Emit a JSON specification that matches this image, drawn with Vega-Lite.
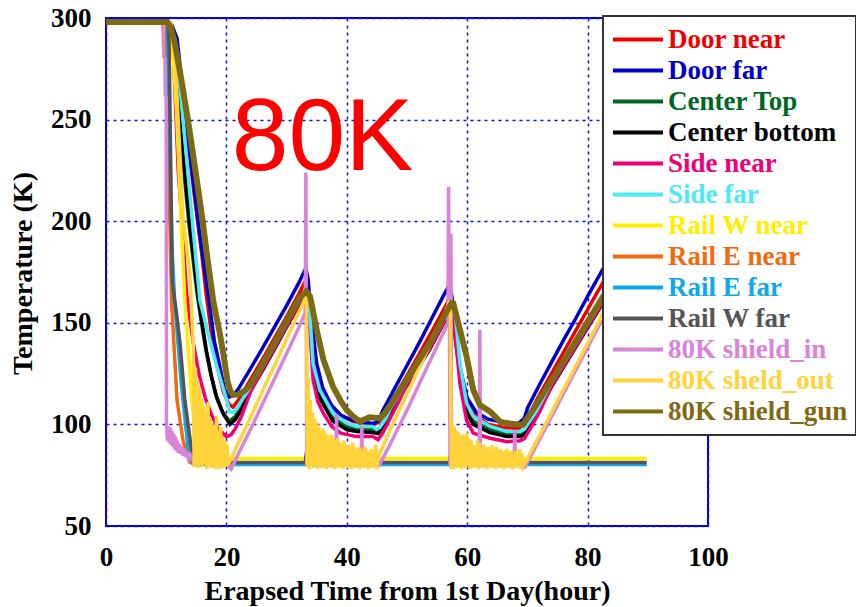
{
"$schema": "https://vega.github.io/schema/vega-lite/v6.json",
"width": 602, "height": 508,
"autosize": "none",
"padding": {"left": 106, "top": 18, "right": 148, "bottom": 81},
"background": "white",
"config": {"view": {"stroke": "#0000e0", "strokeWidth": 2}, "font": "Liberation Serif"},
"datasets": {
"annot": [{"label": "80K", "hour": 20.9, "K": 225.4}],
"temps": [
{"series":"Door near","hour":0,"K":297.5},{"series":"Door near","hour":10.6,"K":297.5},{"series":"Door near","hour":11.6,"K":288},{"series":"Door near","hour":13,"K":255},{"series":"Door near","hour":14.7,"K":212},{"series":"Door near","hour":15.9,"K":184},{"series":"Door near","hour":16.6,"K":165},{"series":"Door near","hour":17.5,"K":145},{"series":"Door near","hour":18.5,"K":128},{"series":"Door near","hour":19.5,"K":116},{"series":"Door near","hour":20.4,"K":110},{"series":"Door near","hour":21.1,"K":108.5},{"series":"Door near","hour":22,"K":112},{"series":"Door near","hour":24,"K":122},{"series":"Door near","hour":26,"K":132},{"series":"Door near","hour":28,"K":142.5},{"series":"Door near","hour":30,"K":153},{"series":"Door near","hour":32,"K":164},{"series":"Door near","hour":33.2,"K":171},{"series":"Door near","hour":33.6,"K":166},{"series":"Door near","hour":34,"K":150},{"series":"Door near","hour":34.5,"K":135},{"series":"Door near","hour":35.5,"K":121},{"series":"Door near","hour":37,"K":111},{"series":"Door near","hour":39,"K":104.5},{"series":"Door near","hour":41,"K":101.5},{"series":"Door near","hour":43,"K":100.5},{"series":"Door near","hour":44.5,"K":100},{"series":"Door near","hour":45.3,"K":101},{"series":"Door near","hour":46,"K":104},{"series":"Door near","hour":48,"K":114},{"series":"Door near","hour":50,"K":124},{"series":"Door near","hour":52,"K":134.5},{"series":"Door near","hour":54,"K":145},{"series":"Door near","hour":56,"K":156},{"series":"Door near","hour":57.1,"K":162},{"series":"Door near","hour":57.5,"K":156},{"series":"Door near","hour":58,"K":142},{"series":"Door near","hour":58.8,"K":125},{"series":"Door near","hour":60,"K":111},{"series":"Door near","hour":61.5,"K":104},{"series":"Door near","hour":63.5,"K":100},{"series":"Door near","hour":66,"K":98.5},{"series":"Door near","hour":68.5,"K":98},{"series":"Door near","hour":69.5,"K":100},{"series":"Door near","hour":70.3,"K":105},{"series":"Door near","hour":72,"K":114.5},{"series":"Door near","hour":74,"K":125},{"series":"Door near","hour":76,"K":135.5},{"series":"Door near","hour":78,"K":146},{"series":"Door near","hour":80,"K":156.5},{"series":"Door near","hour":81.5,"K":164.5},{"series":"Door near","hour":84,"K":177},{"series":"Door near","hour":86,"K":187},{"series":"Door near","hour":88,"K":196},{"series":"Door near","hour":89.8,"K":203},
{"series":"Door far","hour":0,"K":297.5},{"series":"Door far","hour":10.8,"K":297.5},{"series":"Door far","hour":11.8,"K":290},{"series":"Door far","hour":13.9,"K":234},{"series":"Door far","hour":15.5,"K":195},{"series":"Door far","hour":17.2,"K":159},{"series":"Door far","hour":18,"K":141},{"series":"Door far","hour":18.9,"K":128.5},{"series":"Door far","hour":19.7,"K":117},{"series":"Door far","hour":20.5,"K":113.5},{"series":"Door far","hour":21.2,"K":114.5},{"series":"Door far","hour":22,"K":117.5},{"series":"Door far","hour":24,"K":127.5},{"series":"Door far","hour":26,"K":137.5},{"series":"Door far","hour":28,"K":148},{"series":"Door far","hour":30,"K":158.5},{"series":"Door far","hour":32,"K":169.5},{"series":"Door far","hour":33.2,"K":177},{"series":"Door far","hour":33.6,"K":171},{"series":"Door far","hour":34,"K":155},{"series":"Door far","hour":35,"K":130},{"series":"Door far","hour":36,"K":118},{"series":"Door far","hour":37.5,"K":109},{"series":"Door far","hour":39,"K":104.5},{"series":"Door far","hour":41,"K":102},{"series":"Door far","hour":43,"K":101},{"series":"Door far","hour":44.5,"K":100.5},{"series":"Door far","hour":45.3,"K":102},{"series":"Door far","hour":46,"K":107},{"series":"Door far","hour":48,"K":118},{"series":"Door far","hour":50,"K":129},{"series":"Door far","hour":52,"K":140},{"series":"Door far","hour":54,"K":151.5},{"series":"Door far","hour":56,"K":163},{"series":"Door far","hour":57.1,"K":169},{"series":"Door far","hour":57.5,"K":162},{"series":"Door far","hour":58,"K":147},{"series":"Door far","hour":58.8,"K":128},{"series":"Door far","hour":60,"K":113},{"series":"Door far","hour":61.5,"K":106},{"series":"Door far","hour":63.5,"K":102.5},{"series":"Door far","hour":66,"K":101},{"series":"Door far","hour":68.5,"K":100.5},{"series":"Door far","hour":69.5,"K":103},{"series":"Door far","hour":70,"K":108},{"series":"Door far","hour":72,"K":119.5},{"series":"Door far","hour":74,"K":130.5},{"series":"Door far","hour":76,"K":141.5},{"series":"Door far","hour":78,"K":152},{"series":"Door far","hour":80,"K":163},{"series":"Door far","hour":81.5,"K":171},{"series":"Door far","hour":84,"K":184},{"series":"Door far","hour":86,"K":194},{"series":"Door far","hour":88,"K":203},{"series":"Door far","hour":89.8,"K":211},
{"series":"Center Top","hour":0,"K":297.5},{"series":"Center Top","hour":10.5,"K":297.5},{"series":"Center Top","hour":11.3,"K":288},{"series":"Center Top","hour":12.1,"K":250},{"series":"Center Top","hour":13.8,"K":198},{"series":"Center Top","hour":15.1,"K":165},{"series":"Center Top","hour":15.7,"K":153},{"series":"Center Top","hour":16.5,"K":138},{"series":"Center Top","hour":17.3,"K":126},{"series":"Center Top","hour":18.2,"K":115},{"series":"Center Top","hour":19.3,"K":106.5},{"series":"Center Top","hour":20.5,"K":101.5},{"series":"Center Top","hour":21.5,"K":104},{"series":"Center Top","hour":22.5,"K":109},{"series":"Center Top","hour":24,"K":117.5},{"series":"Center Top","hour":26,"K":127.5},{"series":"Center Top","hour":28,"K":138},{"series":"Center Top","hour":30,"K":149},{"series":"Center Top","hour":32.2,"K":160.5},{"series":"Center Top","hour":33.3,"K":163.5},{"series":"Center Top","hour":33.8,"K":156.5},{"series":"Center Top","hour":34.4,"K":128.5},{"series":"Center Top","hour":35.5,"K":114.5},{"series":"Center Top","hour":37.7,"K":103},{"series":"Center Top","hour":40,"K":99},{"series":"Center Top","hour":41.6,"K":98},{"series":"Center Top","hour":44.3,"K":97.5},{"series":"Center Top","hour":45.2,"K":97},{"series":"Center Top","hour":46,"K":100.5},{"series":"Center Top","hour":47.2,"K":107},{"series":"Center Top","hour":49.9,"K":119.8},{"series":"Center Top","hour":53.8,"K":138},{"series":"Center Top","hour":56.6,"K":153.6},{"series":"Center Top","hour":57.3,"K":157.5},{"series":"Center Top","hour":58,"K":151.5},{"series":"Center Top","hour":58.8,"K":126.5},{"series":"Center Top","hour":59.9,"K":107.5},{"series":"Center Top","hour":61,"K":101.5},{"series":"Center Top","hour":63.8,"K":97.5},{"series":"Center Top","hour":66.6,"K":95.5},{"series":"Center Top","hour":68.8,"K":95.5},{"series":"Center Top","hour":69.5,"K":96.5},{"series":"Center Top","hour":70.5,"K":101.5},{"series":"Center Top","hour":71.5,"K":106},{"series":"Center Top","hour":74,"K":119.5},{"series":"Center Top","hour":77,"K":134},{"series":"Center Top","hour":80,"K":148.5},{"series":"Center Top","hour":82.6,"K":161},{"series":"Center Top","hour":86,"K":177},{"series":"Center Top","hour":89.8,"K":194},
{"series":"Center bottom","hour":0,"K":297.5},{"series":"Center bottom","hour":10.6,"K":297.5},{"series":"Center bottom","hour":11.4,"K":288},{"series":"Center bottom","hour":12.25,"K":250},{"series":"Center bottom","hour":14,"K":196},{"series":"Center bottom","hour":15.3,"K":163},{"series":"Center bottom","hour":15.9,"K":151},{"series":"Center bottom","hour":16.7,"K":136},{"series":"Center bottom","hour":17.5,"K":124},{"series":"Center bottom","hour":18.4,"K":113},{"series":"Center bottom","hour":19.5,"K":105},{"series":"Center bottom","hour":20.6,"K":100},{"series":"Center bottom","hour":21.5,"K":102.5},{"series":"Center bottom","hour":22.5,"K":107.5},{"series":"Center bottom","hour":24,"K":116.5},{"series":"Center bottom","hour":26,"K":126.5},{"series":"Center bottom","hour":28,"K":137},{"series":"Center bottom","hour":30,"K":148},{"series":"Center bottom","hour":32.2,"K":159.5},{"series":"Center bottom","hour":33.3,"K":162.5},{"series":"Center bottom","hour":33.8,"K":155},{"series":"Center bottom","hour":34.4,"K":127},{"series":"Center bottom","hour":35.5,"K":113},{"series":"Center bottom","hour":37.7,"K":101.5},{"series":"Center bottom","hour":40,"K":97.5},{"series":"Center bottom","hour":41.6,"K":96.5},{"series":"Center bottom","hour":44.3,"K":96},{"series":"Center bottom","hour":45.2,"K":95.5},{"series":"Center bottom","hour":46,"K":99},{"series":"Center bottom","hour":47.2,"K":105.5},{"series":"Center bottom","hour":49.9,"K":118.8},{"series":"Center bottom","hour":53.8,"K":137},{"series":"Center bottom","hour":56.6,"K":152.6},{"series":"Center bottom","hour":57.3,"K":156.5},{"series":"Center bottom","hour":58,"K":150},{"series":"Center bottom","hour":58.8,"K":125},{"series":"Center bottom","hour":59.9,"K":106},{"series":"Center bottom","hour":61,"K":100},{"series":"Center bottom","hour":63.8,"K":96},{"series":"Center bottom","hour":66.6,"K":94},{"series":"Center bottom","hour":68.8,"K":94},{"series":"Center bottom","hour":69.5,"K":95},{"series":"Center bottom","hour":70.5,"K":100},{"series":"Center bottom","hour":71.5,"K":104.5},{"series":"Center bottom","hour":74,"K":118.5},{"series":"Center bottom","hour":77,"K":133},{"series":"Center bottom","hour":80,"K":147.5},{"series":"Center bottom","hour":82.6,"K":160},{"series":"Center bottom","hour":86,"K":176},{"series":"Center bottom","hour":89.8,"K":193},
{"series":"Side near","hour":0,"K":297.5},{"series":"Side near","hour":10.5,"K":297.5},{"series":"Side near","hour":11.2,"K":282},{"series":"Side near","hour":12,"K":225},{"series":"Side near","hour":13.4,"K":164},{"series":"Side near","hour":14.5,"K":140},{"series":"Side near","hour":15.5,"K":124},{"series":"Side near","hour":16.5,"K":113},{"series":"Side near","hour":17.5,"K":105},{"series":"Side near","hour":18.6,"K":98},{"series":"Side near","hour":20,"K":94},{"series":"Side near","hour":20.8,"K":95},{"series":"Side near","hour":21.5,"K":98},{"series":"Side near","hour":22.5,"K":104},{"series":"Side near","hour":24,"K":116},{"series":"Side near","hour":26,"K":127},{"series":"Side near","hour":28,"K":137.5},{"series":"Side near","hour":30,"K":148.5},{"series":"Side near","hour":32.2,"K":160},{"series":"Side near","hour":33.3,"K":163},{"series":"Side near","hour":33.8,"K":150},{"series":"Side near","hour":34.4,"K":122},{"series":"Side near","hour":35.2,"K":111},{"series":"Side near","hour":36.1,"K":105.5},{"series":"Side near","hour":37.5,"K":99},{"series":"Side near","hour":39,"K":95.7},{"series":"Side near","hour":41.6,"K":94},{"series":"Side near","hour":44.3,"K":94},{"series":"Side near","hour":45.2,"K":92.5},{"series":"Side near","hour":46,"K":96},{"series":"Side near","hour":47.2,"K":103},{"series":"Side near","hour":48.5,"K":110.5},{"series":"Side near","hour":49.9,"K":119.3},{"series":"Side near","hour":53.8,"K":137.5},{"series":"Side near","hour":56.6,"K":153},{"series":"Side near","hour":57.3,"K":157},{"series":"Side near","hour":58,"K":145},{"series":"Side near","hour":58.8,"K":120},{"series":"Side near","hour":59.9,"K":102},{"series":"Side near","hour":61,"K":95.7},{"series":"Side near","hour":63.8,"K":93.2},{"series":"Side near","hour":66.6,"K":91.5},{"series":"Side near","hour":68.8,"K":92},{"series":"Side near","hour":69.5,"K":93},{"series":"Side near","hour":70.5,"K":98},{"series":"Side near","hour":72,"K":106},{"series":"Side near","hour":74,"K":119},{"series":"Side near","hour":77,"K":133.5},{"series":"Side near","hour":80,"K":148},{"series":"Side near","hour":82.6,"K":160.5},{"series":"Side near","hour":86,"K":176},{"series":"Side near","hour":89.8,"K":193},
{"series":"Side far","hour":0,"K":297.5},{"series":"Side far","hour":10.7,"K":297.5},{"series":"Side far","hour":11.6,"K":287},{"series":"Side far","hour":12.8,"K":250},{"series":"Side far","hour":14.5,"K":195},{"series":"Side far","hour":15.6,"K":161},{"series":"Side far","hour":16.95,"K":145},{"series":"Side far","hour":18.4,"K":128.5},{"series":"Side far","hour":19.7,"K":115.5},{"series":"Side far","hour":20.6,"K":106},{"series":"Side far","hour":21.2,"K":106},{"series":"Side far","hour":21.8,"K":108},{"series":"Side far","hour":22.5,"K":111.5},{"series":"Side far","hour":24,"K":118.5},{"series":"Side far","hour":26,"K":128.5},{"series":"Side far","hour":28,"K":139},{"series":"Side far","hour":30,"K":150},{"series":"Side far","hour":32.2,"K":161.5},{"series":"Side far","hour":33.3,"K":164.5},{"series":"Side far","hour":33.8,"K":158},{"series":"Side far","hour":34.4,"K":130},{"series":"Side far","hour":35.5,"K":117},{"series":"Side far","hour":37.7,"K":105.5},{"series":"Side far","hour":40,"K":100.6},{"series":"Side far","hour":41.6,"K":99},{"series":"Side far","hour":44.3,"K":99},{"series":"Side far","hour":44.9,"K":97.5},{"series":"Side far","hour":45.5,"K":98.5},{"series":"Side far","hour":46.5,"K":103},{"series":"Side far","hour":47.2,"K":107.5},{"series":"Side far","hour":49.9,"K":120.8},{"series":"Side far","hour":53.8,"K":139},{"series":"Side far","hour":56.6,"K":154.6},{"series":"Side far","hour":57.3,"K":158.5},{"series":"Side far","hour":58,"K":154.8},{"series":"Side far","hour":58.8,"K":130},{"series":"Side far","hour":59.9,"K":110.4},{"series":"Side far","hour":61,"K":104},{"series":"Side far","hour":63.8,"K":99},{"series":"Side far","hour":66.6,"K":96.5},{"series":"Side far","hour":68.8,"K":96.5},{"series":"Side far","hour":69.5,"K":97.5},{"series":"Side far","hour":70.5,"K":102},{"series":"Side far","hour":71.5,"K":106.5},{"series":"Side far","hour":74,"K":120.5},{"series":"Side far","hour":77,"K":135},{"series":"Side far","hour":80,"K":149.5},{"series":"Side far","hour":82.6,"K":162},{"series":"Side far","hour":86,"K":178},{"series":"Side far","hour":89.8,"K":195},
{"series":"Rail W near","hour":0,"K":297.5},{"series":"Rail W near","hour":10.8,"K":297.5},{"series":"Rail W near","hour":10.9,"K":294},{"series":"Rail W near","hour":11.7,"K":255},{"series":"Rail W near","hour":12.5,"K":200},{"series":"Rail W near","hour":13.1,"K":161},{"series":"Rail W near","hour":14.2,"K":115},{"series":"Rail W near","hour":15,"K":89},{"series":"Rail W near","hour":15.6,"K":84.5},{"series":"Rail W near","hour":16.5,"K":83.2},{"series":"Rail W near","hour":33.2,"K":83.2},{"series":"Rail W near","hour":33.4,"K":85.5},{"series":"Rail W near","hour":33.8,"K":83.2},{"series":"Rail W near","hour":57.1,"K":83.2},{"series":"Rail W near","hour":57.3,"K":85.5},{"series":"Rail W near","hour":57.7,"K":83.2},{"series":"Rail W near","hour":89.8,"K":83.2},
{"series":"Rail E near","hour":0,"K":297.5},{"series":"Rail E near","hour":10,"K":297.5},{"series":"Rail E near","hour":10.1,"K":280},{"series":"Rail E near","hour":10.6,"K":200},{"series":"Rail E near","hour":10.9,"K":160},{"series":"Rail E near","hour":11.8,"K":112},{"series":"Rail E near","hour":12.8,"K":92},{"series":"Rail E near","hour":13.9,"K":81.5},{"series":"Rail E near","hour":14.5,"K":80.5},{"series":"Rail E near","hour":33.2,"K":80.5},{"series":"Rail E near","hour":33.35,"K":86},{"series":"Rail E near","hour":33.6,"K":80.5},{"series":"Rail E near","hour":43.8,"K":80.5},{"series":"Rail E near","hour":44,"K":84},{"series":"Rail E near","hour":44.2,"K":80.5},{"series":"Rail E near","hour":57.1,"K":80.5},{"series":"Rail E near","hour":57.3,"K":86},{"series":"Rail E near","hour":57.6,"K":80.5},{"series":"Rail E near","hour":89.8,"K":80.5},
{"series":"Rail E far","hour":0,"K":297.5},{"series":"Rail E far","hour":10.2,"K":297.5},{"series":"Rail E far","hour":10.5,"K":250},{"series":"Rail E far","hour":11,"K":185},{"series":"Rail E far","hour":11.4,"K":161},{"series":"Rail E far","hour":12.5,"K":120},{"series":"Rail E far","hour":13.6,"K":89},{"series":"Rail E far","hour":14.3,"K":82},{"series":"Rail E far","hour":15,"K":80.3},{"series":"Rail E far","hour":33.2,"K":80.3},{"series":"Rail E far","hour":33.3,"K":84},{"series":"Rail E far","hour":33.5,"K":80.3},{"series":"Rail E far","hour":57.1,"K":80.3},{"series":"Rail E far","hour":57.25,"K":84},{"series":"Rail E far","hour":57.5,"K":80.3},{"series":"Rail E far","hour":89.8,"K":80.3},
{"series":"Rail W far","hour":0,"K":297.5},{"series":"Rail W far","hour":10.3,"K":297.5},{"series":"Rail W far","hour":10.5,"K":285},{"series":"Rail W far","hour":11,"K":170},{"series":"Rail W far","hour":11.7,"K":155},{"series":"Rail W far","hour":12.3,"K":140},{"series":"Rail W far","hour":13.1,"K":112},{"series":"Rail W far","hour":14.2,"K":87.4},{"series":"Rail W far","hour":14.8,"K":82.5},{"series":"Rail W far","hour":15.5,"K":81.2},{"series":"Rail W far","hour":33.1,"K":81.2},{"series":"Rail W far","hour":33.3,"K":86.5},{"series":"Rail W far","hour":33.6,"K":81.2},{"series":"Rail W far","hour":43.8,"K":81.2},{"series":"Rail W far","hour":44,"K":85.5},{"series":"Rail W far","hour":44.3,"K":81.2},{"series":"Rail W far","hour":57.1,"K":81.2},{"series":"Rail W far","hour":57.3,"K":86.5},{"series":"Rail W far","hour":57.6,"K":81.2},{"series":"Rail W far","hour":62,"K":81.2},{"series":"Rail W far","hour":62.2,"K":84},{"series":"Rail W far","hour":62.4,"K":81.2},{"series":"Rail W far","hour":67.4,"K":81.2},{"series":"Rail W far","hour":67.6,"K":84.5},{"series":"Rail W far","hour":67.8,"K":81.2},{"series":"Rail W far","hour":89.8,"K":81.2},
{"series":"80K shield_in","hour":0,"K":297.5},{"series":"80K shield_in","hour":9.4,"K":297.5},{"series":"80K shield_in","hour":9.5,"K":292},{"series":"80K shield_in","hour":9.6,"K":281},{"series":"80K shield_in","hour":9.8,"K":280},{"series":"80K shield_in","hour":9.85,"K":262},{"series":"80K shield_in","hour":10,"K":261},{"series":"80K shield_in","hour":10.05,"K":100},{"series":"80K shield_in","hour":10.2,"K":92},{"series":"80K shield_in","hour":10.35,"K":99},{"series":"80K shield_in","hour":10.5,"K":91},{"series":"80K shield_in","hour":10.65,"K":98.5},{"series":"80K shield_in","hour":10.8,"K":90},{"series":"80K shield_in","hour":10.95,"K":97},{"series":"80K shield_in","hour":11.1,"K":89},{"series":"80K shield_in","hour":11.25,"K":95.5},{"series":"80K shield_in","hour":11.4,"K":88},{"series":"80K shield_in","hour":11.55,"K":94},{"series":"80K shield_in","hour":11.7,"K":87},{"series":"80K shield_in","hour":11.85,"K":92},{"series":"80K shield_in","hour":12,"K":86},{"series":"80K shield_in","hour":12.2,"K":90.5},{"series":"80K shield_in","hour":12.4,"K":85.5},{"series":"80K shield_in","hour":12.6,"K":89},{"series":"80K shield_in","hour":12.8,"K":84.5},{"series":"80K shield_in","hour":13,"K":88},{"series":"80K shield_in","hour":13.2,"K":84},{"series":"80K shield_in","hour":13.4,"K":86.5},{"series":"80K shield_in","hour":13.7,"K":83},{"series":"80K shield_in","hour":14,"K":85},{"series":"80K shield_in","hour":14.5,"K":82},{"series":"80K shield_in","hour":15,"K":83},{"series":"80K shield_in","hour":16,"K":81.5},{"series":"80K shield_in","hour":17,"K":83},{"series":"80K shield_in","hour":18,"K":81},{"series":"80K shield_in","hour":19,"K":82},{"series":"80K shield_in","hour":20,"K":80.5},{"series":"80K shield_in","hour":20.8,"K":78},{"series":"80K shield_in","hour":22,"K":85.5},{"series":"80K shield_in","hour":24,"K":97.5},{"series":"80K shield_in","hour":26,"K":110},{"series":"80K shield_in","hour":28,"K":122.5},{"series":"80K shield_in","hour":30.5,"K":138},{"series":"80K shield_in","hour":32,"K":147.5},{"series":"80K shield_in","hour":33.1,"K":155},{"series":"80K shield_in","hour":33.2,"K":224},{"series":"80K shield_in","hour":33.35,"K":80},{"series":"80K shield_in","hour":36,"K":82},{"series":"80K shield_in","hour":38.2,"K":81.5},{"series":"80K shield_in","hour":38.3,"K":105},{"series":"80K shield_in","hour":38.4,"K":82},{"series":"80K shield_in","hour":42.4,"K":82},{"series":"80K shield_in","hour":42.5,"K":99},{"series":"80K shield_in","hour":42.6,"K":81.5},{"series":"80K shield_in","hour":44.5,"K":82},{"series":"80K shield_in","hour":45.4,"K":80},{"series":"80K shield_in","hour":47,"K":89},{"series":"80K shield_in","hour":50,"K":107},{"series":"80K shield_in","hour":53,"K":126},{"series":"80K shield_in","hour":55,"K":138.5},{"series":"80K shield_in","hour":56.8,"K":150},{"series":"80K shield_in","hour":56.9,"K":217},{"series":"80K shield_in","hour":57.05,"K":150},{"series":"80K shield_in","hour":57.15,"K":80},{"series":"80K shield_in","hour":57.3,"K":194},{"series":"80K shield_in","hour":57.4,"K":80},{"series":"80K shield_in","hour":60,"K":82},{"series":"80K shield_in","hour":62,"K":82},{"series":"80K shield_in","hour":62.1,"K":146.6},{"series":"80K shield_in","hour":62.2,"K":82},{"series":"80K shield_in","hour":67.8,"K":82},{"series":"80K shield_in","hour":67.9,"K":97},{"series":"80K shield_in","hour":68,"K":82},{"series":"80K shield_in","hour":69.6,"K":79},{"series":"80K shield_in","hour":72,"K":92.5},{"series":"80K shield_in","hour":75,"K":109.5},{"series":"80K shield_in","hour":78,"K":126.5},{"series":"80K shield_in","hour":81,"K":143.5},{"series":"80K shield_in","hour":82.6,"K":152.5},{"series":"80K shield_in","hour":86,"K":172},{"series":"80K shield_in","hour":89.8,"K":193},
{"series":"80K sheld_out","hour":0,"K":297.5},{"series":"80K sheld_out","hour":10.7,"K":297.5},{"series":"80K sheld_out","hour":11.5,"K":280},{"series":"80K sheld_out","hour":12.8,"K":201},{"series":"80K sheld_out","hour":13.9,"K":176},{"series":"80K sheld_out","hour":14.3,"K":150},{"series":"80K sheld_out","hour":14.5,"K":140},{"series":"80K sheld_out","hour":14.65,"K":79},{"series":"80K sheld_out","hour":14.85,"K":128},{"series":"80K sheld_out","hour":15,"K":80},{"series":"80K sheld_out","hour":15.2,"K":122},{"series":"80K sheld_out","hour":15.35,"K":78.5},{"series":"80K sheld_out","hour":15.55,"K":118},{"series":"80K sheld_out","hour":15.7,"K":80},{"series":"80K sheld_out","hour":15.9,"K":113},{"series":"80K sheld_out","hour":16.05,"K":79},{"series":"80K sheld_out","hour":16.25,"K":109},{"series":"80K sheld_out","hour":16.4,"K":80.5},{"series":"80K sheld_out","hour":16.6,"K":106},{"series":"80K sheld_out","hour":16.75,"K":78},{"series":"80K sheld_out","hour":16.95,"K":111},{"series":"80K sheld_out","hour":17.1,"K":79.5},{"series":"80K sheld_out","hour":17.3,"K":103},{"series":"80K sheld_out","hour":17.45,"K":78.5},{"series":"80K sheld_out","hour":17.65,"K":100},{"series":"80K sheld_out","hour":17.8,"K":80},{"series":"80K sheld_out","hour":18,"K":98},{"series":"80K sheld_out","hour":18.15,"K":78},{"series":"80K sheld_out","hour":18.35,"K":104},{"series":"80K sheld_out","hour":18.5,"K":79.5},{"series":"80K sheld_out","hour":18.7,"K":96},{"series":"80K sheld_out","hour":18.85,"K":78},{"series":"80K sheld_out","hour":19.05,"K":99},{"series":"80K sheld_out","hour":19.2,"K":80},{"series":"80K sheld_out","hour":19.4,"K":94},{"series":"80K sheld_out","hour":19.55,"K":78.5},{"series":"80K sheld_out","hour":19.75,"K":92},{"series":"80K sheld_out","hour":19.9,"K":79},{"series":"80K sheld_out","hour":20.1,"K":90},{"series":"80K sheld_out","hour":20.3,"K":80},{"series":"80K sheld_out","hour":22,"K":91},{"series":"80K sheld_out","hour":24,"K":103.5},{"series":"80K sheld_out","hour":26,"K":116.5},{"series":"80K sheld_out","hour":28,"K":129},{"series":"80K sheld_out","hour":30,"K":142},{"series":"80K sheld_out","hour":32,"K":155},{"series":"80K sheld_out","hour":33.3,"K":163},
{"series":"80K sheld_out","hour":33.45,"K":79},{"series":"80K sheld_out","hour":33.6,"K":123},{"series":"80K sheld_out","hour":33.78,"K":78},{"series":"80K sheld_out","hour":33.95,"K":112},{"series":"80K sheld_out","hour":34.13,"K":79.5},{"series":"80K sheld_out","hour":34.3,"K":106},{"series":"80K sheld_out","hour":34.48,"K":78.5},{"series":"80K sheld_out","hour":34.65,"K":103},{"series":"80K sheld_out","hour":34.83,"K":80},{"series":"80K sheld_out","hour":35,"K":101},{"series":"80K sheld_out","hour":35.18,"K":78},{"series":"80K sheld_out","hour":35.35,"K":99},{"series":"80K sheld_out","hour":35.53,"K":79.5},{"series":"80K sheld_out","hour":35.7,"K":97},{"series":"80K sheld_out","hour":35.88,"K":78.5},{"series":"80K sheld_out","hour":36.05,"K":98},{"series":"80K sheld_out","hour":36.23,"K":80},{"series":"80K sheld_out","hour":36.4,"K":96},{"series":"80K sheld_out","hour":36.58,"K":78},{"series":"80K sheld_out","hour":36.75,"K":95},{"series":"80K sheld_out","hour":36.93,"K":79.5},{"series":"80K sheld_out","hour":37.1,"K":94},{"series":"80K sheld_out","hour":37.28,"K":78.5},{"series":"80K sheld_out","hour":37.45,"K":95},{"series":"80K sheld_out","hour":37.63,"K":80},{"series":"80K sheld_out","hour":37.8,"K":93},{"series":"80K sheld_out","hour":37.98,"K":78},{"series":"80K sheld_out","hour":38.15,"K":92},{"series":"80K sheld_out","hour":38.33,"K":79.5},{"series":"80K sheld_out","hour":38.5,"K":93},{"series":"80K sheld_out","hour":38.68,"K":78.5},{"series":"80K sheld_out","hour":38.85,"K":91},{"series":"80K sheld_out","hour":39.03,"K":80},{"series":"80K sheld_out","hour":39.2,"K":90},{"series":"80K sheld_out","hour":39.38,"K":78},{"series":"80K sheld_out","hour":39.55,"K":92},{"series":"80K sheld_out","hour":39.73,"K":79.5},{"series":"80K sheld_out","hour":39.9,"K":89},{"series":"80K sheld_out","hour":40.08,"K":78.5},{"series":"80K sheld_out","hour":40.25,"K":90},{"series":"80K sheld_out","hour":40.43,"K":80},{"series":"80K sheld_out","hour":40.6,"K":88},{"series":"80K sheld_out","hour":40.78,"K":78},{"series":"80K sheld_out","hour":40.95,"K":91},{"series":"80K sheld_out","hour":41.13,"K":79.5},{"series":"80K sheld_out","hour":41.3,"K":89},{"series":"80K sheld_out","hour":41.48,"K":78.5},{"series":"80K sheld_out","hour":41.65,"K":87},{"series":"80K sheld_out","hour":41.83,"K":80},{"series":"80K sheld_out","hour":42,"K":89},{"series":"80K sheld_out","hour":42.18,"K":78},{"series":"80K sheld_out","hour":42.35,"K":88},{"series":"80K sheld_out","hour":42.53,"K":79.5},{"series":"80K sheld_out","hour":42.7,"K":86},{"series":"80K sheld_out","hour":42.88,"K":78.5},{"series":"80K sheld_out","hour":43.05,"K":89},{"series":"80K sheld_out","hour":43.23,"K":80},{"series":"80K sheld_out","hour":43.4,"K":87},{"series":"80K sheld_out","hour":43.58,"K":78},{"series":"80K sheld_out","hour":43.75,"K":85},{"series":"80K sheld_out","hour":43.93,"K":79.5},{"series":"80K sheld_out","hour":44.1,"K":88},{"series":"80K sheld_out","hour":44.28,"K":78.5},{"series":"80K sheld_out","hour":44.45,"K":86},{"series":"80K sheld_out","hour":44.63,"K":80},{"series":"80K sheld_out","hour":44.8,"K":90},{"series":"80K sheld_out","hour":44.98,"K":78},{"series":"80K sheld_out","hour":45.15,"K":86},{"series":"80K sheld_out","hour":45.4,"K":85},{"series":"80K sheld_out","hour":47,"K":96},{"series":"80K sheld_out","hour":50,"K":115},{"series":"80K sheld_out","hour":53,"K":134},{"series":"80K sheld_out","hour":55,"K":146.5},{"series":"80K sheld_out","hour":57.2,"K":161},
{"series":"80K sheld_out","hour":57.35,"K":78},{"series":"80K sheld_out","hour":57.5,"K":101},{"series":"80K sheld_out","hour":57.68,"K":78},{"series":"80K sheld_out","hour":57.85,"K":99},{"series":"80K sheld_out","hour":58.03,"K":79.5},{"series":"80K sheld_out","hour":58.2,"K":97},{"series":"80K sheld_out","hour":58.38,"K":78.5},{"series":"80K sheld_out","hour":58.55,"K":96},{"series":"80K sheld_out","hour":58.73,"K":80},{"series":"80K sheld_out","hour":58.9,"K":94},{"series":"80K sheld_out","hour":59.08,"K":78},{"series":"80K sheld_out","hour":59.25,"K":95},{"series":"80K sheld_out","hour":59.43,"K":79.5},{"series":"80K sheld_out","hour":59.6,"K":94},{"series":"80K sheld_out","hour":59.78,"K":78.5},{"series":"80K sheld_out","hour":59.95,"K":96},{"series":"80K sheld_out","hour":60.13,"K":80},{"series":"80K sheld_out","hour":60.3,"K":93},{"series":"80K sheld_out","hour":60.48,"K":78},{"series":"80K sheld_out","hour":60.65,"K":92},{"series":"80K sheld_out","hour":60.83,"K":79.5},{"series":"80K sheld_out","hour":61,"K":90},{"series":"80K sheld_out","hour":61.18,"K":78.5},{"series":"80K sheld_out","hour":61.35,"K":89},{"series":"80K sheld_out","hour":61.53,"K":80},{"series":"80K sheld_out","hour":61.7,"K":92},{"series":"80K sheld_out","hour":61.88,"K":78},{"series":"80K sheld_out","hour":62.05,"K":91},{"series":"80K sheld_out","hour":62.23,"K":79.5},{"series":"80K sheld_out","hour":62.4,"K":88},{"series":"80K sheld_out","hour":62.58,"K":78.5},{"series":"80K sheld_out","hour":62.75,"K":90},{"series":"80K sheld_out","hour":62.93,"K":80},{"series":"80K sheld_out","hour":63.1,"K":87},{"series":"80K sheld_out","hour":63.28,"K":78},{"series":"80K sheld_out","hour":63.45,"K":89},{"series":"80K sheld_out","hour":63.63,"K":79.5},{"series":"80K sheld_out","hour":63.8,"K":88},{"series":"80K sheld_out","hour":63.98,"K":78.5},{"series":"80K sheld_out","hour":64.15,"K":90},{"series":"80K sheld_out","hour":64.33,"K":80},{"series":"80K sheld_out","hour":64.5,"K":86},{"series":"80K sheld_out","hour":64.68,"K":78},{"series":"80K sheld_out","hour":64.85,"K":89},{"series":"80K sheld_out","hour":65.03,"K":79.5},{"series":"80K sheld_out","hour":65.2,"K":87},{"series":"80K sheld_out","hour":65.38,"K":78.5},{"series":"80K sheld_out","hour":65.55,"K":88},{"series":"80K sheld_out","hour":65.73,"K":80},{"series":"80K sheld_out","hour":65.9,"K":86},{"series":"80K sheld_out","hour":66.08,"K":78},{"series":"80K sheld_out","hour":66.25,"K":87},{"series":"80K sheld_out","hour":66.43,"K":79.5},{"series":"80K sheld_out","hour":66.6,"K":88},{"series":"80K sheld_out","hour":66.78,"K":78.5},{"series":"80K sheld_out","hour":66.95,"K":86},{"series":"80K sheld_out","hour":67.13,"K":80},{"series":"80K sheld_out","hour":67.3,"K":87},{"series":"80K sheld_out","hour":67.48,"K":78},{"series":"80K sheld_out","hour":67.65,"K":85},{"series":"80K sheld_out","hour":67.83,"K":79.5},{"series":"80K sheld_out","hour":68,"K":87},{"series":"80K sheld_out","hour":68.18,"K":78.5},{"series":"80K sheld_out","hour":68.35,"K":86},{"series":"80K sheld_out","hour":68.53,"K":80},{"series":"80K sheld_out","hour":68.7,"K":88},{"series":"80K sheld_out","hour":68.88,"K":78},{"series":"80K sheld_out","hour":69.05,"K":86},{"series":"80K sheld_out","hour":69.3,"K":79.2},{"series":"80K sheld_out","hour":72,"K":94.5},{"series":"80K sheld_out","hour":75,"K":111.5},{"series":"80K sheld_out","hour":78,"K":128.5},{"series":"80K sheld_out","hour":81,"K":145.5},{"series":"80K sheld_out","hour":82.6,"K":155},{"series":"80K sheld_out","hour":86,"K":174},{"series":"80K sheld_out","hour":89.8,"K":195},
{"series":"80K shield_gun","hour":0,"K":298},{"series":"80K shield_gun","hour":10.2,"K":298},{"series":"80K shield_gun","hour":10.8,"K":295},{"series":"80K shield_gun","hour":11.4,"K":288},{"series":"80K shield_gun","hour":12.5,"K":270},{"series":"80K shield_gun","hour":13.6,"K":250},{"series":"80K shield_gun","hour":15,"K":222},{"series":"80K shield_gun","hour":16.1,"K":199},{"series":"80K shield_gun","hour":16.7,"K":185},{"series":"80K shield_gun","hour":17.8,"K":161},{"series":"80K shield_gun","hour":18.4,"K":152},{"series":"80K shield_gun","hour":18.9,"K":145},{"series":"80K shield_gun","hour":19.5,"K":134.5},{"series":"80K shield_gun","hour":20.2,"K":121},{"series":"80K shield_gun","hour":20.7,"K":116},{"series":"80K shield_gun","hour":21.1,"K":114.5},{"series":"80K shield_gun","hour":21.8,"K":114.7},{"series":"80K shield_gun","hour":22.5,"K":115.5},{"series":"80K shield_gun","hour":23.2,"K":117},{"series":"80K shield_gun","hour":24,"K":119.5},{"series":"80K shield_gun","hour":26,"K":129.5},{"series":"80K shield_gun","hour":28,"K":140},{"series":"80K shield_gun","hour":30,"K":151},{"series":"80K shield_gun","hour":32.2,"K":162.5},{"series":"80K shield_gun","hour":33.3,"K":165.5},{"series":"80K shield_gun","hour":33.9,"K":163},{"series":"80K shield_gun","hour":35,"K":146.5},{"series":"80K shield_gun","hour":36.1,"K":132},{"series":"80K shield_gun","hour":37.7,"K":118.6},{"series":"80K shield_gun","hour":39,"K":111.5},{"series":"80K shield_gun","hour":40,"K":107},{"series":"80K shield_gun","hour":41.2,"K":103.5},{"series":"80K shield_gun","hour":42.2,"K":101.5},{"series":"80K shield_gun","hour":43,"K":102.5},{"series":"80K shield_gun","hour":43.8,"K":103.5},{"series":"80K shield_gun","hour":44.7,"K":103.3},{"series":"80K shield_gun","hour":45.5,"K":103},{"series":"80K shield_gun","hour":46.3,"K":105.5},{"series":"80K shield_gun","hour":47.2,"K":109.3},{"series":"80K shield_gun","hour":49.9,"K":121.8},{"series":"80K shield_gun","hour":53.8,"K":140},{"series":"80K shield_gun","hour":56.6,"K":155.6},{"series":"80K shield_gun","hour":57.4,"K":159.7},{"series":"80K shield_gun","hour":57.7,"K":159.5},{"series":"80K shield_gun","hour":58.8,"K":146.5},{"series":"80K shield_gun","hour":59.9,"K":133.4},{"series":"80K shield_gun","hour":61,"K":117},{"series":"80K shield_gun","hour":62.1,"K":109.6},{"series":"80K shield_gun","hour":63.8,"K":106.3},{"series":"80K shield_gun","hour":65.5,"K":101.2},{"series":"80K shield_gun","hour":67.7,"K":100.1},{"series":"80K shield_gun","hour":69.3,"K":100},{"series":"80K shield_gun","hour":71,"K":107.5},{"series":"80K shield_gun","hour":74,"K":121.5},{"series":"80K shield_gun","hour":77,"K":136},{"series":"80K shield_gun","hour":80,"K":150.5},{"series":"80K shield_gun","hour":82.6,"K":163},{"series":"80K shield_gun","hour":86,"K":179},{"series":"80K shield_gun","hour":89.8,"K":196}
]},
"layer": [
{
"data": {"name": "temps"},
"mark": {"type": "line", "clip": true},
"encoding": {
"x": {"field": "hour", "type": "quantitative",
 "scale": {"domain": [0, 100], "nice": false, "zero": false},
 "axis": {"title": "Erapsed Time from 1st Day(hour)", "values": [0, 20, 40, 60, 80, 100],
  "grid": true, "gridColor": "#1010e0", "gridDash": [3, 4], "gridWidth": 1.5,
  "domain": false, "ticks": false, "labelFlush": false, "labelOverlap": false,
  "labelFont": "Liberation Serif", "labelFontSize": 27, "labelFontWeight": "bold", "labelColor": "black", "labelPadding": 18,
  "titleFont": "Liberation Serif", "titleFontSize": 28, "titleFontWeight": "bold", "titleColor": "black",
  "titleBaseline": "alphabetic", "titleY": 73}},
"y": {"field": "K", "type": "quantitative",
 "scale": {"domain": [50, 300], "nice": false, "zero": false},
 "axis": {"title": "Temperature (K)", "values": [50, 100, 150, 200, 250, 300],
  "grid": true, "gridColor": "#1010e0", "gridDash": [3, 4], "gridWidth": 1.5,
  "domain": false, "ticks": false, "labelFlush": false, "labelOverlap": false,
  "labelFont": "Liberation Serif", "labelFontSize": 27, "labelFontWeight": "bold", "labelColor": "black", "labelPadding": 15,
  "titleFont": "Liberation Serif", "titleFontSize": 28, "titleFontWeight": "bold", "titleColor": "black",
  "titleBaseline": "alphabetic", "titleAngle": -90, "titleAlign": "center", "titleX": -75, "titleY": 255}},
"color": {"field": "series", "type": "nominal",
 "scale": {"domain": ["Door near","Door far","Center Top","Center bottom","Side near","Side far","Rail W near","Rail E near","Rail E far","Rail W far","80K shield_in","80K sheld_out","80K shield_gun"],
  "range": ["#ee0000","#0000cc","#006622","#000000","#ee0077","#4ee9f5","#ffee00","#f06a10","#10a8e8","#555555","#d884d8","#ffd43a","#7f6a14"]},
 "legend": {"orient": "none", "legendX": 497, "legendY": -2, "title": null,
  "padding": 8, "fillColor": "white", "strokeColor": "#333333",
  "symbolType": "stroke", "symbolSize": 2500, "symbolStrokeWidth": 4,
  "clipHeight": 31, "rowPadding": 0, "labelOffset": 3,
  "labelFont": "Liberation Serif", "labelFontSize": 27, "labelFontWeight": "bold", "labelLimit": 400,
  "encode": {"labels": {"update": {"fill": {"scale": "color", "field": "value"}}},
   "legend": {"update": {"strokeWidth": {"value": 2}}}}}},
"strokeWidth": {"condition": {"test": "datum.series === '80K shield_gun'", "value": 6}, "value": 3.5}
}
},
{
"data": {"name": "annot"},
"mark": {"type": "text", "font": "Liberation Sans", "fontSize": 102, "color": "#ff0000", "align": "left", "baseline": "alphabetic"},
"encoding": {
"x": {"field": "hour", "type": "quantitative"},
"y": {"field": "K", "type": "quantitative"},
"text": {"field": "label"}
}
}
]
}
